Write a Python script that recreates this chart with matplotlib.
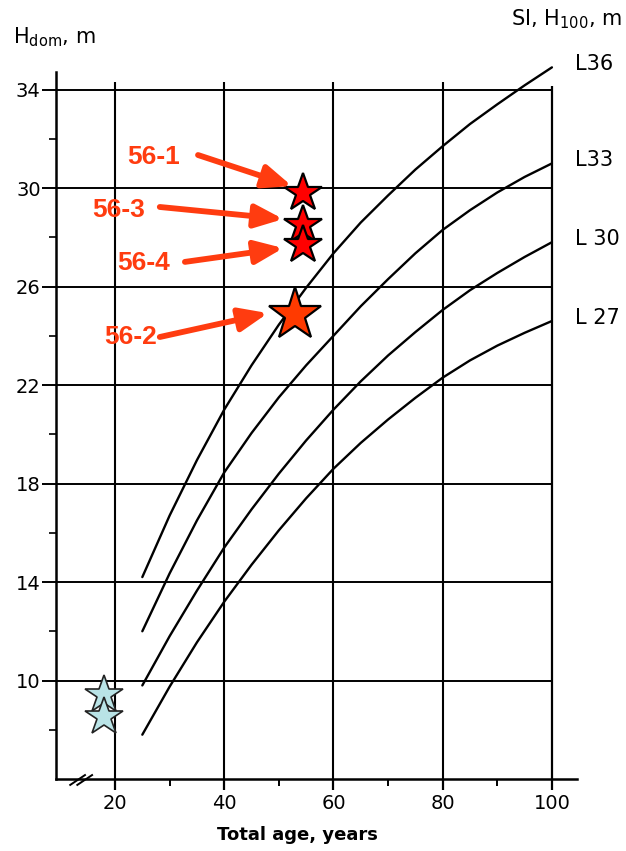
import matplotlib
matplotlib.use('Agg')
import matplotlib.pyplot as plt

# ---- data ----
ages = [25, 30, 35, 40, 45, 50, 55, 60, 65, 70, 75, 80, 85, 90, 95, 100]
L36 = [14.2, 16.7, 18.95, 21.0, 22.8, 24.45, 25.95, 27.35, 28.6, 29.7, 30.75, 31.7, 32.6, 33.4, 34.17, 34.9]
L33 = [12.0, 14.35, 16.5, 18.45, 20.05, 21.5, 22.8, 24.0, 25.2, 26.3, 27.35, 28.3, 29.1, 29.82, 30.45, 31.0]
L30 = [9.8, 11.8, 13.65, 15.4, 16.95, 18.4, 19.75, 21.0, 22.15, 23.2, 24.15, 25.05, 25.85, 26.55, 27.2, 27.8]
L27 = [7.8, 9.75, 11.55, 13.2, 14.7, 16.1, 17.4, 18.6, 19.65, 20.6, 21.48, 22.3, 23.0, 23.6, 24.12, 24.6]
curve_names = ['L36', 'L33', 'L 30', 'L 27']

site_labels = ['56-1', '56-3', '56-4', '56-2']
site_age = [54.5, 54.5, 54.5, 53.0]
site_h = [29.8, 28.5, 27.7, 24.85]
label_pos = [(27.0, 31.26), (20.6, 29.1), (25.3, 26.95), (22.9, 23.95)]
arrow_start = [(35.2, 31.34), (28.2, 29.23), (32.8, 27.0), (28.2, 23.95)]
arrow_tip = [(52.4, 30.08), (50.8, 28.74), (50.8, 27.56), (48.0, 24.92)]

young_age = [17.9, 17.9]
young_h = [9.4, 8.5]

y_major = [10, 14, 18, 22, 26, 30, 34]
y_minor = [8, 12, 16, 20, 24, 28, 32]
x_major = [20, 40, 60, 80, 100]
x_minor = [30, 50, 70, 90]

XMIN, XMAX = 9.2, 104.6
YMIN, YMAX = 6, 35.5

red = '#FF3C10'

fig = plt.figure(figsize=(6.26, 8.51), dpi=100)
ax = fig.add_axes([0.0895, 0.0846, 0.8323, 0.8536])
ax.set_xlim(XMIN, XMAX)
ax.set_ylim(YMIN, YMAX)

for s in ['top', 'right']:
    ax.spines[s].set_visible(False)
ax.spines['left'].set_bounds(YMIN, 34.7)
ax.spines['left'].set_linewidth(1.8)
ax.spines['bottom'].set_linewidth(1.8)

ax.set_yticks(y_major)
ax.set_yticks(y_minor, minor=True)
ax.set_xticks(x_major)
ax.set_xticks(x_minor, minor=True)
ax.tick_params(axis='y', which='major', direction='out', length=10, width=1.4, labelsize=14, pad=1)
ax.tick_params(axis='y', which='minor', direction='out', length=5, width=1.2)
ax.tick_params(axis='x', which='major', direction='out', length=8, width=1.6, labelsize=14, pad=3)
ax.tick_params(axis='x', which='minor', direction='out', length=5, width=1.4)

# grid
ax.hlines(y_major, XMIN, 100, colors='k', lw=1.4, zorder=1)
ax.vlines(x_major[:-1], YMIN, 34.3, colors='k', lw=1.5, zorder=1)
ax.vlines([100], YMIN, 34.15, colors='k', lw=1.6, zorder=1)

# curves
for name, vals in zip(curve_names, [L36, L33, L30, L27]):
    ax.plot(ages, vals, color='k', lw=1.7, zorder=2, solid_capstyle='round', solid_joinstyle='round')
    ax.text(104.3, vals[-1] + 0.12, name, fontsize=15, ha='left', va='center', clip_on=False)

# axis break marks
ax.plot([11.8, 14.5], [5.76, 6.16], color='k', lw=1.4, clip_on=False)
ax.plot([13.1, 15.8], [5.76, 6.16], color='k', lw=1.4, clip_on=False)

# young stands (light blue stars)
for a, h in zip(young_age, young_h):
    ax.plot([a], [h], marker='*', ms=29, mfc='#B9E3E6', mec='#222222', mew=1.2, ls='none', zorder=5, clip_on=False)

# site stars
for i, (a, h) in enumerate(zip(site_age, site_h)):
    if site_labels[i] == '56-2':
        ax.plot([a], [h], marker='*', ms=40, mfc='#FF3A00', mec='k', mew=1.6, ls='none', zorder=5)
    else:
        ax.plot([a], [h], marker='*', ms=29, mfc='#FF0000', mec='k', mew=1.6, ls='none', zorder=5)

# labels and arrows
for lab, (tx, ty), st, tp in zip(site_labels, label_pos, arrow_start, arrow_tip):
    ax.text(tx, ty, lab, color=red, fontsize=19, fontweight='bold', family='Liberation Sans',
            ha='center', va='center', zorder=6)
    ax.annotate('', xy=tp, xytext=st,
                arrowprops=dict(arrowstyle='-|>,head_length=0.85,head_width=0.35', lw=4.2,
                                color=red, mutation_scale=20, shrinkA=0, shrinkB=0),
                zorder=6)

fig.text(13 / 626, 1 - 37 / 851, r'H$_{\mathrm{dom}}$, m', fontsize=15, ha='left', va='center')
fig.text(622 / 626, 1 - 19 / 851, r'SI, H$_{100}$, m', fontsize=15, ha='right', va='center')
fig.text(297 / 626, 1 - 835 / 851, 'Total age, years', fontsize=13, fontweight='bold', ha='center', va='center')

fig.savefig('out.png', dpi=100)
